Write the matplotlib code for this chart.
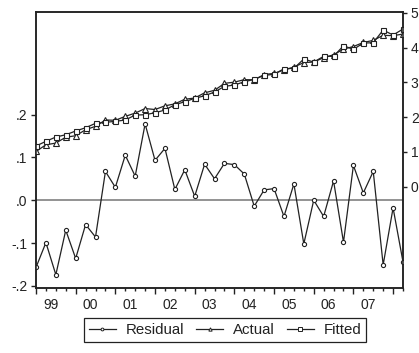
import matplotlib
matplotlib.use("Agg")
import matplotlib.pyplot as plt
from matplotlib.lines import Line2D
from matplotlib import transforms

plt.rcParams["font.family"] = ["Liberation Sans", "DejaVu Sans"]
plt.rcParams["font.size"] = 10

# Quarterly observations, 1999Q1 - 2008Q2
residual = [-0.157, -0.099, -0.174, -0.070, -0.136, -0.057, -0.086, 0.067,
            0.030, 0.105, 0.056, 0.178, 0.093, 0.121, 0.025, 0.071,
            0.009, 0.084, 0.050, 0.086, 0.083, 0.061, -0.014, 0.024,
            0.027, -0.038, 0.038, -0.102, 0.000, -0.038, 0.045, -0.098,
            0.081, 0.017, 0.067, -0.151, -0.018, -0.144]
actual = [1.013, 1.206, 1.254, 1.424, 1.465, 1.638, 1.736, 1.918,
          1.909, 2.022, 2.116, 2.247, 2.219, 2.325, 2.381, 2.514,
          2.549, 2.699, 2.771, 2.971, 3.005, 3.078, 3.072, 3.225,
          3.257, 3.353, 3.440, 3.568, 3.583, 3.709, 3.792, 3.954,
          4.029, 4.146, 4.205, 4.352, 4.341, 4.388]
fitted = [1.170, 1.305, 1.428, 1.494, 1.601, 1.695, 1.822, 1.851,
          1.879, 1.917, 2.060, 2.069, 2.126, 2.204, 2.356, 2.443,
          2.540, 2.615, 2.721, 2.885, 2.922, 3.017, 3.086, 3.201,
          3.230, 3.391, 3.402, 3.670, 3.583, 3.747, 3.747, 4.052,
          3.948, 4.129, 4.138, 4.503, 4.359, 4.532]
year_labels = ["99", "00", "01", "02", "03", "04", "05", "06", "07"]
resid_ticks = [-0.2, -0.1, 0.0, 0.1, 0.2]
resid_tick_labels = ["-.2", "-.1", ".0", ".1", ".2"]
level_ticks = [0, 1, 2, 3, 4, 5]

line_col = "#222222"
text_col = "#222222"
n = len(residual)
t = list(range(n))

fig = plt.figure(figsize=(4.19, 3.53), dpi=100)
ax = fig.add_axes([36 / 419, 1 - 288 / 353, 367 / 419, 276.3 / 353])
ax2 = ax.twinx()

# residual on the left scale
ax.axhline(0, color="#808080", lw=1.2, zorder=1)
ax.plot(t, residual, color=line_col, lw=0.9, marker="o", ms=3.0,
        mfc="white", mec=line_col, mew=0.8, zorder=3)
ax.set_xlim(0, n - 1)
ax.set_ylim(-0.205, 0.44)
ax.set_yticks(resid_ticks)
ax.set_yticklabels(resid_tick_labels)

# actual / fitted on the right scale
ax2.plot(t, actual, color=line_col, lw=0.9, marker="^", ms=3.8,
         mfc="white", mec=line_col, mew=0.8)
ax2.plot(t, fitted, color=line_col, lw=0.9, marker="s", ms=3.6,
         mfc="white", mec=line_col, mew=0.8)
ax2.set_ylim(-2.91, 5.03)
ax2.set_yticks(level_ticks)

# quarterly ticks, year labels centred over each year
ax.set_xticks(range(0, n, 4))
ax.set_xticks(range(n), minor=True)
ax.set_xticklabels([])
ax.tick_params(axis="x", which="major", direction="out", length=4.5,
               width=1.0, color=line_col)
ax.tick_params(axis="x", which="minor", direction="out", length=2.5,
               width=1.0, color=line_col)
ax.tick_params(axis="y", direction="out", length=3.6, width=1.0,
               color=line_col, labelcolor=text_col, labelsize=10, pad=2.5)
ax2.tick_params(axis="y", direction="out", length=3.2, width=1.0,
                color=line_col, labelcolor=text_col, labelsize=10, pad=2.4)

trans = transforms.blended_transform_factory(ax.transData, ax.transAxes)
for k, lab in enumerate(year_labels):
    ax.text(4 * k + 1.5, -0.076, lab, transform=trans, ha="center",
            va="baseline", color=text_col, fontsize=10)

for a in (ax, ax2):
    for s in a.spines.values():
        s.set_color(line_col)
        s.set_linewidth(1.1)

handles = [
    Line2D([], [], color=line_col, lw=0.9, marker="o", ms=2.0,
           mfc="white", mec=line_col, mew=0.7),
    Line2D([], [], color=line_col, lw=0.9, marker="^", ms=2.4,
           mfc="white", mec=line_col, mew=0.7),
    Line2D([], [], color=line_col, lw=0.9, marker="s", ms=2.2,
           mfc="white", mec=line_col, mew=0.7),
]
leg = fig.legend(handles, ["Residual", "Actual", "Fitted"], ncol=3,
                 loc="center", bbox_to_anchor=(225 / 419, 1 - 330 / 353),
                 frameon=True, fancybox=False, framealpha=1,
                 edgecolor=line_col, handlelength=1.8, handletextpad=0.65,
                 columnspacing=0.8, borderpad=0.35, fontsize=10.8)
leg.get_frame().set_linewidth(0.9)
for txt in leg.get_texts():
    txt.set_color(text_col)

fig.savefig("out.png", dpi=100)
